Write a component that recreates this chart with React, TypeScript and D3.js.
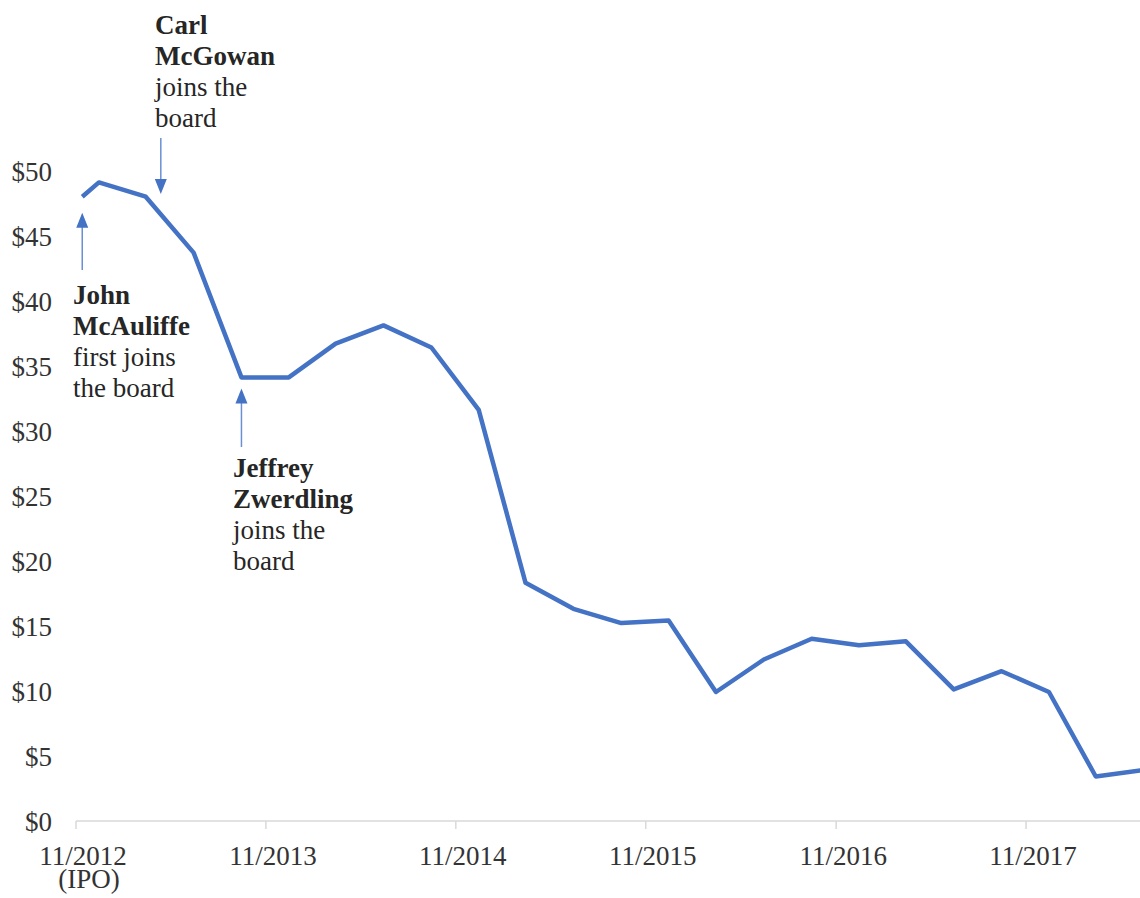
import { useRef, useEffect } from "react";
import * as d3 from "d3";

// quarterly closing prices
const dates = [
  "2012-11-13", "2012-12-15", "2013-03-15", "2013-06-15", "2013-09-15", "2013-12-15",
  "2014-03-15", "2014-06-15", "2014-09-15", "2014-12-15", "2015-03-15", "2015-06-15",
  "2015-09-15", "2015-12-15", "2016-03-15", "2016-06-15", "2016-09-15", "2016-12-15",
  "2017-03-15", "2017-06-15", "2017-09-15", "2017-12-15", "2018-03-15", "2018-06-15",
];
const prices = [
  48.1, 49.2, 48.1, 43.8, 34.2, 34.2, 36.8, 38.2, 36.5, 31.7, 18.4, 16.4,
  15.3, 15.5, 10.0, 12.5, 14.1, 13.6, 13.9, 10.2, 11.6, 10.0, 3.5, 4.0,
];
const yTicks = [0, 5, 10, 15, 20, 25, 30, 35, 40, 45, 50];
const xTickDates = ["2012-11-01", "2013-11-01", "2014-11-01", "2015-11-01", "2016-11-01", "2017-11-01"];
const xTickLabels = [["11/2012", "(IPO)"], ["11/2013"], ["11/2014"], ["11/2015"], ["11/2016"], ["11/2017"]];

// board events: bold name lines, then plain lines
const events = [
  { date: "2012-11-13", name: ["John", "McAuliffe"], rest: ["first joins", "the board"] },
  { date: "2013-04-13", name: ["Carl", "McGowan"], rest: ["joins the", "board"] },
  { date: "2013-09-15", name: ["Jeffrey", "Zwerdling"], rest: ["joins the", "board"] },
];

const W = 1140;
const H = 898;
const FONT = "'Liberation Serif', 'Times New Roman', serif";
const FS = 27;
const LINE_COLOR = "#4472c4";
const ARROW_COLOR = "#6a8fd4";

const App = () => {
  const svgRef = useRef<SVGSVGElement | null>(null);

  useEffect(() => {
    if (!svgRef.current) return;
    const svg = d3.select(svgRef.current);
    svg.selectAll("*").remove();

    const parse = d3.timeParse("%Y-%m-%d");
    const data = dates.map((d, i) => ({ date: parse(d) as Date, value: prices[i] }));

    const x = d3.scaleTime()
      .domain([parse("2012-11-01") as Date, parse("2018-06-08") as Date])
      .range([76, 1140]);
    const y = d3.scaleLinear().domain([0, 50]).range([822, 172]);

    // x axis line + ticks
    svg.append("line")
      .attr("x1", x.range()[0]).attr("x2", W)
      .attr("y1", 821).attr("y2", 821)
      .attr("stroke", "#d9d9d9").attr("stroke-width", 1.5);

    xTickDates.forEach((d, i) => {
      const px = x(parse(d) as Date);
      svg.append("line")
        .attr("x1", px).attr("x2", px)
        .attr("y1", 821).attr("y2", 829)
        .attr("stroke", "#d9d9d9").attr("stroke-width", 1.5);
      const t = svg.append("text")
        .attr("x", px + 7)
        .attr("y", 865)
        .attr("text-anchor", "middle")
        .attr("font-family", FONT)
        .attr("font-size", FS)
        .attr("fill", "#333");
      xTickLabels[i].forEach((s, j) => {
        t.append("tspan").attr("x", px + 7 + (j ? 6 : 0)).attr("dy", j ? 23 : 0).text(s);
      });
    });

    // y tick labels
    svg.selectAll(".ylab")
      .data(yTicks)
      .enter()
      .append("text")
      .attr("class", "ylab")
      .attr("x", 52)
      .attr("y", d => y(d))
      .attr("dy", "0.33em")
      .attr("text-anchor", "end")
      .attr("font-family", FONT)
      .attr("font-size", FS)
      .attr("fill", "#333")
      .text(d => `$${d}`);

    // price line
    const line = d3.line<{ date: Date; value: number }>()
      .x(d => x(d.date))
      .y(d => y(d.value));

    svg.append("path")
      .datum(data)
      .attr("d", line)
      .attr("fill", "none")
      .attr("stroke", LINE_COLOR)
      .attr("stroke-width", 4.5)
      .attr("stroke-linejoin", "round");

    // arrows
    const arrow = (ax: number, tipY: number, tailY: number) => {
      const dir = tailY > tipY ? 1 : -1;
      svg.append("line")
        .attr("x1", ax).attr("x2", ax)
        .attr("y1", tipY + dir * 12).attr("y2", tailY)
        .attr("stroke", ARROW_COLOR).attr("stroke-width", 1.5);
      svg.append("path")
        .attr("d", `M${ax},${tipY} L${ax - 6},${tipY + dir * 15} L${ax + 6},${tipY + dir * 15} Z`)
        .attr("fill", LINE_COLOR);
    };

    const label = (lx: number, baseY: number, ev: typeof events[number]) => {
      const lines = [...ev.name.map(s => ({ s, b: true })), ...ev.rest.map(s => ({ s, b: false }))];
      lines.forEach((l, i) => {
        svg.append("text")
          .attr("x", lx)
          .attr("y", baseY + i * 31)
          .attr("font-family", FONT)
          .attr("font-size", FS)
          .attr("font-weight", l.b ? "bold" : "normal")
          .attr("fill", "#262626")
          .text(l.s);
      });
    };

    const [john, carl, jeff] = events;
    const johnX = x(parse(john.date) as Date);
    arrow(johnX, y(prices[0]) + 16, 270);
    label(73, 304, john);

    const carlX = x(parse(carl.date) as Date);
    arrow(carlX, 194, 138);
    label(155, 34, carl);

    const jeffX = x(parse(jeff.date) as Date);
    arrow(jeffX, y(prices[4]) + 11, 447);
    label(233, 477, jeff);
  }, []);

  return (
    <div style={{ position: "absolute", left: 0, top: 0 }}>
      <svg ref={svgRef} width={W} height={H} viewBox={`0 0 ${W} ${H}`} style={{ display: "block", background: "#fff" }} />
    </div>
  );
};

export default App;
